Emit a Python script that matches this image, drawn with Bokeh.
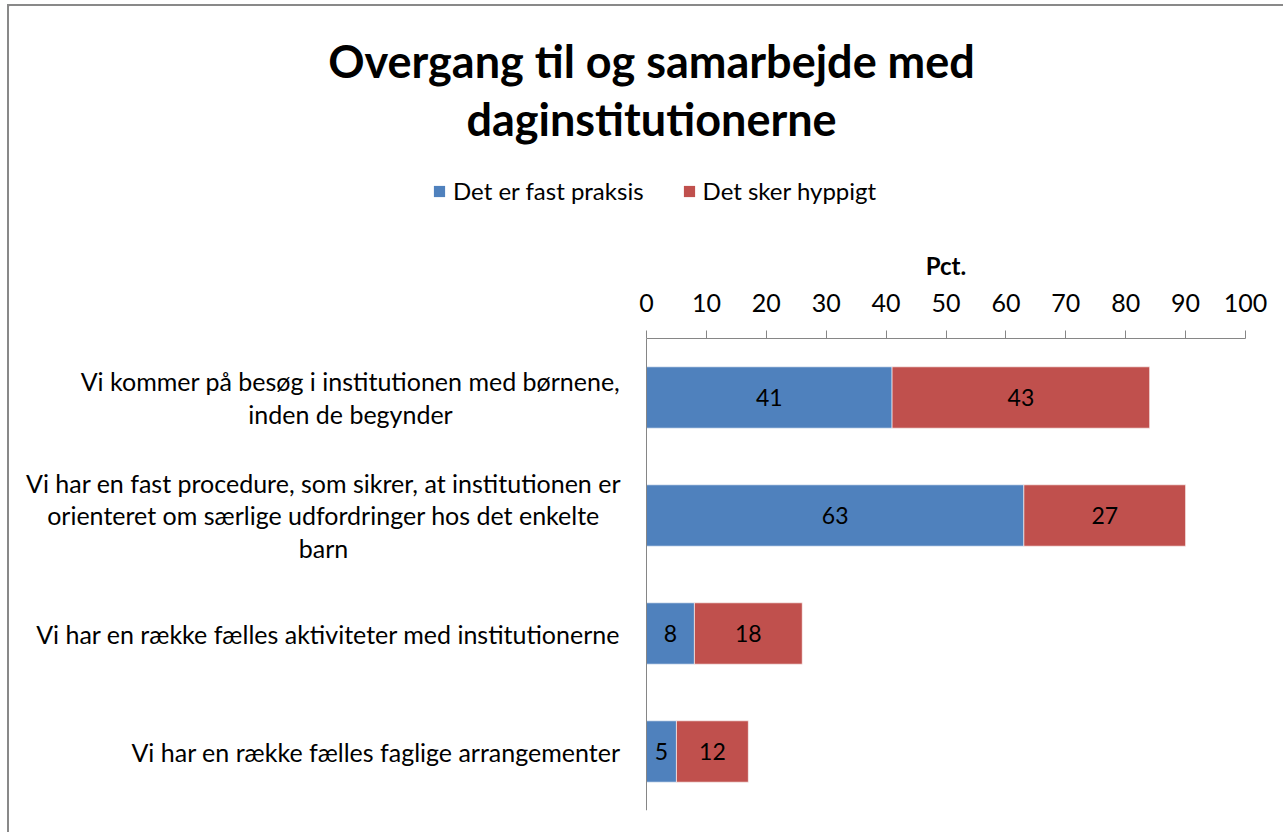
from bokeh.plotting import figure
from bokeh.layouts import column
from bokeh.models import (ColumnDataSource, FactorRange, Range1d, Legend, LegendItem,
                          SingleIntervalTicker, Span)
from bokeh.core.properties import value
from bokeh.embed import file_html
from bokeh.resources import INLINE

categories = [
    "Vi kommer på besøg i institutionen med børnene,\ninden de begynder",
    "Vi har en fast procedure, som sikrer, at institutionen er\norienteret om særlige udfordringer hos det enkelte\nbarn",
    "Vi har en række fælles aktiviteter med institutionerne",
    "Vi har en række fælles faglige arrangementer",
]
fast_praksis = [41, 63, 8, 5]
sker_hyppigt = [43, 27, 18, 12]
series_names = ["Det er fast praksis", "Det sker hyppigt"]
title_lines = ["Overgang til og samarbejde med", "daginstitutionerne"]
axis_title = "Pct."
colors = ["#4F81BD", "#C0504D"]

FONT = "Lato"
W = 1274
HEAD_H = 274
X0_PX = 637          # px of value 0
PX_PER = 5.99        # px per percentage point


def px_to_val(px):
    return (px - X0_PX) / PX_PER


# ---------------- header: title, legend, axis title ----------------
head = figure(width=W, height=HEAD_H, x_range=Range1d(0, W), y_range=Range1d(HEAD_H, 0),
              x_axis_location=None, y_axis_location=None, min_border=0,
              output_backend="svg", toolbar_location=None)
head.title = None
head.outline_line_color = None
head.xgrid.grid_line_color = None
head.ygrid.grid_line_color = None

head.text(x=[642, 642], y=[54, 112], text=title_lines, text_align="center",
          text_baseline="middle", text_font=value(FONT), text_font_size="45px",
          text_font_style="bold", text_color="black")
head.text(x=[X0_PX + 50 * PX_PER], y=[259], text=[axis_title], text_align="center",
          text_baseline="middle", text_font=value(FONT), text_font_size="24px",
          text_font_style="bold", text_color="black")

# legend swatch proxies (lie outside the visible header range)
swatches = [head.vbar(x=[-100], top=[-100], bottom=[-101], width=1, fill_color=c, line_color=None)
            for c in colors]
legend = Legend(items=[LegendItem(label=series_names[i], renderers=[swatches[i]]) for i in range(2)],
                orientation="horizontal", location=(423, 75),
                label_text_font=FONT, label_text_font_size="24px", label_text_color="black",
                glyph_width=14, glyph_height=14, spacing=38, border_line_color=None,
                background_fill_alpha=0, label_standoff=7, margin=0, padding=0)
head.add_layout(legend, "center")

# ---------------- chart ----------------
src = ColumnDataSource(dict(
    cat=categories,
    fast=fast_praksis,
    hyp=sker_hyppigt,
    fast_mid=[v / 2 for v in fast_praksis],
    hyp_mid=[a + b / 2 for a, b in zip(fast_praksis, sker_hyppigt)],
    fast_lbl=[str(v) for v in fast_praksis],
    hyp_lbl=[str(v) for v in sker_hyppigt],
    lbl_x=[px_to_val(v) for v in [341, 314, 611, 611]],
    lbl_align=["center", "center", "right", "right"],
))

p = figure(
    width=W, height=332 - HEAD_H + 472 + 22,
    y_range=FactorRange(factors=list(reversed(categories))),
    x_range=Range1d(px_to_val(0), px_to_val(W)),
    x_axis_location="above", y_axis_location=None,
    output_backend="svg", toolbar_location=None,
    min_border_left=0, min_border_right=0, min_border_bottom=22, min_border_top=332 - HEAD_H,
)
p.title = None

rs = p.hbar_stack(["fast", "hyp"], y="cat", height=0.52, color=colors, source=src,
                  line_color="white", line_alpha=0.6, line_width=1)

p.text(x="fast_mid", y="cat", text="fast_lbl", source=src, text_align="center",
       text_baseline="middle", text_font=value(FONT), text_font_size="23px", text_color="black")
p.text(x="hyp_mid", y="cat", text="hyp_lbl", source=src, text_align="center",
       text_baseline="middle", text_font=value(FONT), text_font_size="23px", text_color="black")

# category labels
p.text(x="lbl_x", y="cat", text="cat", source=src, text_align="lbl_align",
       text_baseline="middle", text_font=value(FONT), text_font_size="25px",
       text_line_height=1.08, text_color="black")

# value axis line at 0
p.add_layout(Span(location=0, dimension="height", line_color="#868686", line_width=1))

xa = p.xaxis[0]
xa.bounds = (0, 100)
xa.ticker = SingleIntervalTicker(interval=10)
xa.major_label_text_font = FONT
xa.major_label_text_font_size = "25px"
xa.major_label_text_color = "black"
xa.major_label_standoff = 19
xa.axis_line_color = "#868686"
xa.major_tick_line_color = "#868686"
xa.major_tick_in = 0
xa.major_tick_out = 8
xa.minor_tick_line_color = None

p.xgrid.grid_line_color = None
p.ygrid.grid_line_color = None
p.outline_line_color = None

layout = column(head, p, spacing=0)
layout.styles = {"margin-left": "7px", "margin-top": "4px",
                 "border-left": "2px solid #898989", "border-top": "2px solid #898989"}

open("out.html", "w").write(file_html(layout, INLINE))
